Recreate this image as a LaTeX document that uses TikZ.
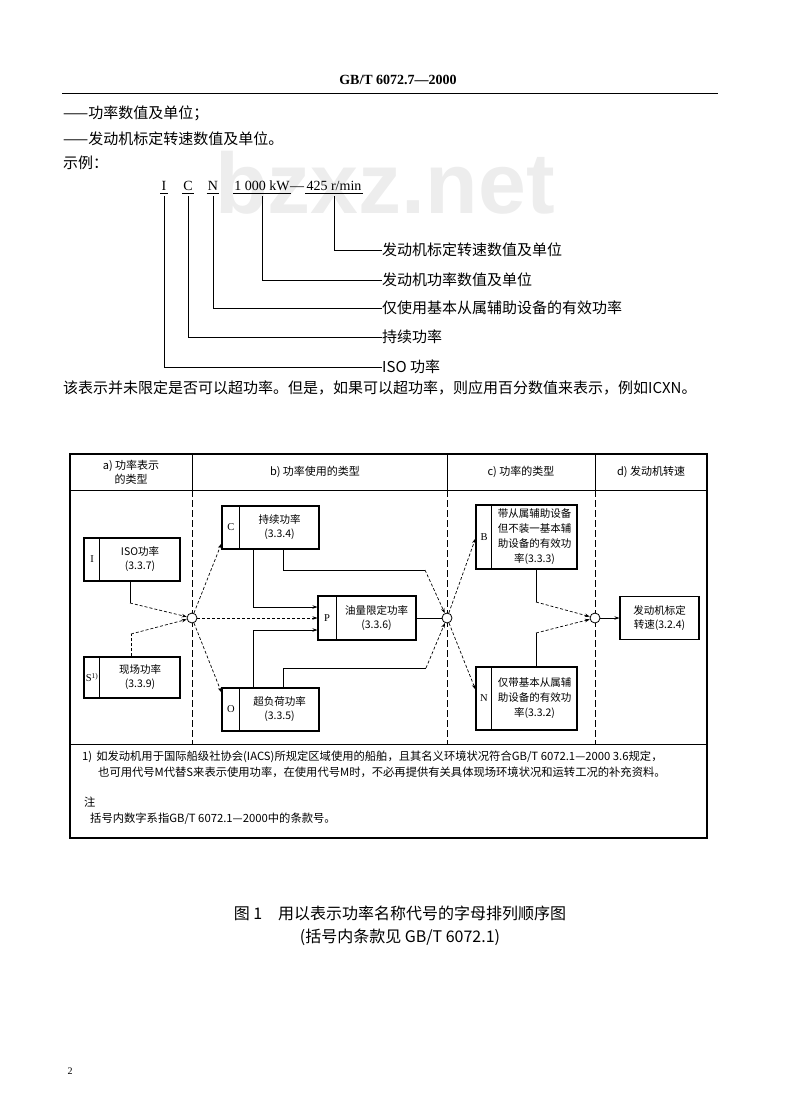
\documentclass[tikz,border=0pt]{standalone}
\usepackage{fontspec}
\setmainfont{Liberation Serif}
\newfontfamily\cjk{Noto Sans CJK SC}
\newfontfamily\wmfont{Liberation Sans}
\usetikzlibrary{arrows.meta, calc}

\begin{document}
\begin{tikzpicture}[
  x=1pt, y=-1pt,
  body/.style={font=\cjk\fontsize{15}{17}\selectfont, anchor=west, inner sep=0pt},
  code/.style={font=\fontsize{14}{16}\selectfont, anchor=base, inner sep=0pt},
  lead/.style={line width=0.7pt},
  hdr/.style={font=\cjk\fontsize{11}{14}\selectfont, align=center, inner sep=0pt},
  pbox/.style={draw, line width=1.1pt, minimum height=43pt, inner sep=0pt},
  ltr/.style={font=\fontsize{10.5}{12}\selectfont, inner sep=0pt},
  txt/.style={font=\cjk\fontsize{10.5}{14}\selectfont, align=center, inner sep=0pt},
  junc/.style={circle, draw, line width=0.8pt, minimum size=10pt, inner sep=0pt, fill=white},
  wire/.style={line width=0.7pt},
  flow/.style={line width=0.7pt, dash pattern=on 3pt off 2pt},
  arr/.style={-{Stealth[length=5pt, width=3.5pt]}},
  coldiv/.style={line width=0.7pt, dash pattern=on 7pt off 3pt},
  note/.style={font=\cjk\fontsize{11.3}{14}\selectfont, anchor=west, inner sep=0pt},
  capt/.style={font=\cjk\fontsize{16}{19}\selectfont, inner sep=0pt},
]
  \useasboundingbox (0,0) rectangle (800,1096);

  % watermark of the scan
  \node[font=\wmfont\bfseries\fontsize{86}{90}\selectfont, text=gray!14] (wm) at (385,183) {bzxz.net};

  % Page head
  \node[font=\bfseries\fontsize{14}{16}\selectfont, inner sep=0pt] (std) at (398,80) {GB/T 6072.7—2000};
  \draw[line width=1pt] (62,93) -- (718,93);

  \node[body] (t1) at (63,113) {——功率数值及单位；};
  \node[body] (t2) at (63,139) {——发动机标定转速数值及单位。};
  \node[body] (t3) at (63,163) {示例：};

  % ── Example code and its leaders ──
  \node[code] (cI) at (164,190) {I};
  \node[code] (cC) at (188,190) {C};
  \node[code] (cN) at (213,190) {N};
  \node[code] (cKW) at (262,190) {1 000 kW};
  \node[code] (cDash) at (297,190) {—};
  \node[code] (cRPM) at (334,190) {425 r/min};
  \foreach \n in {cI,cC,cN,cKW,cRPM} { \draw[lead] ($(\n.base west)+(-1,3)$) -- ($(\n.base east)+(1,3)$); }

  \node[body] (lSpd) at (382,250) {发动机标定转速数值及单位};
  \node[body] (lPow) at (382,280) {发动机功率数值及单位};
  \node[body] (lNet) at (382,308) {仅使用基本从属辅助设备的有效功率};
  \node[body] (lCont) at (382,337) {持续功率};
  \node[body] (lISO) at (382,367) {ISO 功率};
  \foreach \n/\l in {cI/lISO, cC/lCont, cN/lNet, cKW/lPow, cRPM/lSpd} { \draw[lead] ($(\n.base)+(0,6)$) |- (\l.west); }

  \node[body] (t4) at (63,388) {该表示并未限定是否可以超功率。但是，如果可以超功率，则应用百分数值来表示，例如ICXN。};

  % ── Figure frame and columns ──
  \draw[line width=1.4pt] (70,454) rectangle (707,838);
  \draw[line width=1pt] (70,490) -- (707,490);
  \draw[line width=1pt] (70,744) -- (707,744);
  \foreach \x in {192,447,595} { \draw[wire] (\x,454) -- (\x,490); \draw[coldiv] (\x,490) -- (\x,744); }

  \node[hdr] (ha) at (131,472) {a) 功率表示\\的类型};
  \node[hdr] (hb) at (315,472) {b) 功率使用的类型};
  \node[hdr] (hc) at (521,472) {c) 功率的类型};
  \node[hdr] (hd) at (651,472) {d) 发动机转速};

  % a) power declaration
  \node[pbox, minimum width=96pt] (I) at (132,559.5) {};
  \draw[wire, line width=1pt] ($(I.north west)+(16,0)$) -- ($(I.south west)+(16,0)$);
  \node[ltr] (Ik) at (92,559.5) {I};
  \node[txt] (It) at (140,559.5) {ISO功率\\(3.3.7)};

  \node[pbox, minimum width=96pt, minimum height=41pt] (S) at (132,677.5) {};
  \draw[wire, line width=1pt] ($(S.north west)+(16,0)$) -- ($(S.south west)+(16,0)$);
  \node[ltr] (Sk) at (92,677.5) {S\textsuperscript{1)}};
  \node[txt] (St) at (140,677.5) {现场功率\\(3.3.9)};

  % b) power usage
  \node[pbox, minimum width=97pt] (C) at (270.5,527.5) {};
  \draw[wire, line width=1pt] ($(C.north west)+(18,0)$) -- ($(C.south west)+(18,0)$);
  \node[ltr] (Ck) at (231,527.5) {C};
  \node[txt] (Ct) at (279.5,527.5) {持续功率\\(3.3.4)};

  \node[pbox, minimum width=97pt] (O) at (270.5,709.5) {};
  \draw[wire, line width=1pt] ($(O.north west)+(18,0)$) -- ($(O.south west)+(18,0)$);
  \node[ltr] (Ok) at (231,709.5) {O};
  \node[txt] (Ot) at (279.5,709.5) {超负荷功率\\(3.3.5)};

  \node[pbox, minimum width=98pt, minimum height=44pt] (P) at (367,618) {};
  \draw[wire, line width=1pt] ($(P.north west)+(19,0)$) -- ($(P.south west)+(19,0)$);
  \node[ltr] (Pk) at (327,618) {P};
  \node[txt] (Pt) at (376.5,618) {油量限定功率\\(3.3.6)};

  % c) power type
  \node[pbox, minimum width=101pt, minimum height=64pt] (B) at (526.5,537) {};
  \draw[wire, line width=1pt] ($(B.north west)+(16,0)$) -- ($(B.south west)+(16,0)$);
  \node[ltr] (Bk) at (484,537) {B};
  \node[txt, font=\cjk\fontsize{10.5}{15}\selectfont] (Bt) at (534.5,537) {带从属辅助设备\\但不装一基本辅\\助设备的有效功\\率(3.3.3)};

  \node[pbox, minimum width=101pt, minimum height=63pt] (N) at (526.5,698.5) {};
  \draw[wire, line width=1pt] ($(N.north west)+(16,0)$) -- ($(N.south west)+(16,0)$);
  \node[ltr] (Nk) at (484,698.5) {N};
  \node[txt, font=\cjk\fontsize{10.5}{15}\selectfont] (Nt) at (534.5,698.5) {仅带基本从属辅\\助设备的有效功\\率(3.3.2)};

  % d) engine speed
  \node[pbox, minimum width=79pt] (E) at (659.5,618) {};
  \node[txt] (Et) at (659.5,618) {发动机标定\\转速(3.2.4)};

  % junctions
  \node[junc] (j1) at (192,618) {};
  \node[junc] (j2) at (447,618) {};
  \node[junc] (j3) at (595,618) {};

  % ── Connectors ──
  \coordinate (iI) at (130,603);
  \coordinate (iS) at (131,634);
  \draw[wire] (iI |- I.south) -- (iI);
  \draw[flow, arr] (iI) -- (j1);
  \draw[flow] (iS |- S.north) -- (iS);
  \draw[flow, arr] (iS) -- (j1);
  \draw[flow, arr] (j1) -- ($(C.south west)+(0,-6)$);
  \draw[flow, arr] (j1) -- ($(O.north west)+(0,5)$);
  \draw[flow, arr] (j1) -- (P.west);

  \coordinate (cp) at (253,607);
  \coordinate (op) at (253,630);
  \draw[wire, arr] (C.south -| cp) -- (cp) -- (P.west |- cp);
  \draw[wire, arr] (O.north -| op) -- (op) -- (P.west |- op);

  \coordinate (cb) at (283,570);
  \coordinate (cb2) at (425,570);
  \coordinate (ob) at (283,668);
  \coordinate (ob2) at (426,668);
  \draw[wire] (C.south -| cb) -- (cb) -- (cb2);
  \draw[flow, arr] (cb2) -- (j2);
  \draw[wire] (O.north -| ob) -- (ob) -- (ob2);
  \draw[flow, arr] (ob2) -- (j2);
  \draw[wire] (P.east) -- (j2);

  \draw[flow, arr] (j2) -- ($(B.south west)+(0,-31)$);
  \draw[flow, arr] (j2) -- ($(N.north west)+(0,23)$);

  \coordinate (bj) at (536,602);
  \coordinate (nj) at (536,633);
  \draw[wire] (B.south -| bj) -- (bj);
  \draw[flow, arr] (bj) -- (j3);
  \draw[wire] (N.north -| nj) -- (nj);
  \draw[flow, arr] (nj) -- (j3);
  \draw[wire, arr] (j3) -- (E.west);

  % footnote and note
  \node[note] (fn1) at (82,757) {1)\hspace{4pt}如发动机用于国际船级社协会(IACS)所规定区域使用的船舶，且其名义环境状况符合GB/T 6072.1—2000 3.6规定，};
  \node[note] (fn2) at (98,772) {也可用代号M代替S来表示使用功率，在使用代号M时，不必再提供有关具体现场环境状况和运转工况的补充资料。};
  \node[note] (fn3) at (84,802) {注};
  \node[note] (fn4) at (90,819) {括号内数字系指GB/T 6072.1—2000中的条款号。};

  % caption
  \node[capt] (cap1) at (400,913) {图 1\quad 用以表示功率名称代号的字母排列顺序图};
  \node[capt] (cap2) at (400,937) {(括号内条款见 GB/T 6072.1)};

  \node[font=\fontsize{10}{12}\selectfont, inner sep=0pt] (pg) at (70,1071) {2};
\end{tikzpicture}
\end{document}
